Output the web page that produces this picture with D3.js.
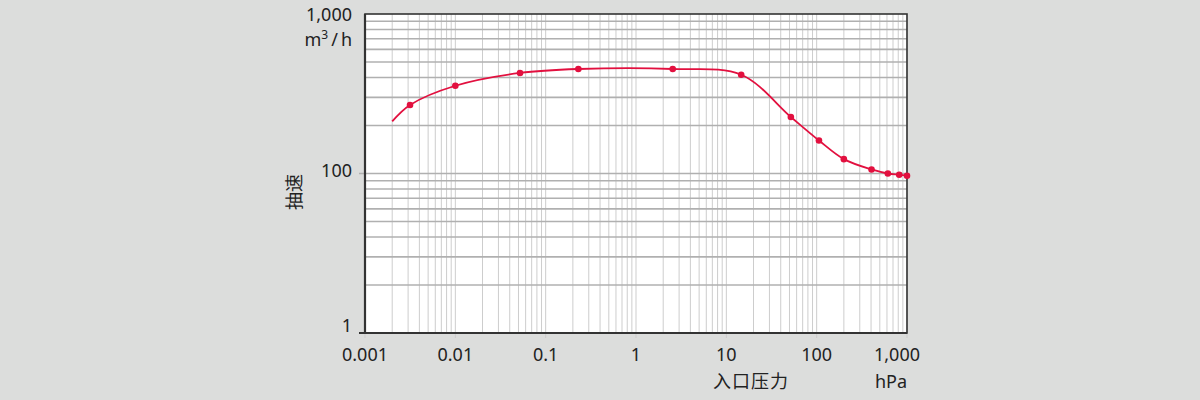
<!DOCTYPE html>
<html>
<head>
<meta charset="utf-8">
<script src="https://cdn.jsdelivr.net/npm/d3@7"></script>
<style>
  html, body { margin: 0; padding: 0; background: #dcdddc; }
  svg { display: block; }
  text { font-family: "Noto Sans", "Noto Sans CJK SC", sans-serif; fill: #222; }
  .cjk { font-family: "Noto Sans CJK SC", sans-serif; }
</style>
</head>
<body>
<svg id="chart" width="1200" height="400"></svg>
<script>
// 入口压力 (hPa) 与 抽速 (m3/h)
const pressure = [0.002, 0.00315, 0.01, 0.052, 0.23, 2.55, 14.6, 51.8, 106, 200, 405, 614, 820, 1000];
const speed    = [212,   269,     355,  427,   452,  452,  416,  226,  161, 123, 106, 100, 98.3, 96.9];
const marker   = [false, true,    true, true,  true, true, true, true, true, true, true, true, true, true];

const xTicks = [0.001, 0.01, 0.1, 1, 10, 100, 1000];
const xTickLabels = ["0.001", "0.01", "0.1", "1", "10", "100", "1,000"];
const yTicks = [10, 100, 1000];
const yTickLabels = ["1", "100", "1,000"];

const width = 1200, height = 400;
const margin = { left: 365, right: 293, top: 14, bottom: 67 };

const svg = d3.select("#chart");

const x = d3.scaleLog().domain([0.001, 1000]).range([margin.left, width - margin.right]);
const y = d3.scaleLog().domain([10, 1000]).range([height - margin.bottom, margin.top]);

// plot background
svg.append("rect")
  .attr("x", x.range()[0]).attr("y", y.range()[1])
  .attr("width", x.range()[1] - x.range()[0])
  .attr("height", y.range()[0] - y.range()[1])
  .attr("fill", "#fff");

// vertical grid (minor + major)
const xGrid = [];
for (let e = -3; e < 3; e++) {
  for (let m = 1; m < 10; m++) xGrid.push(m * Math.pow(10, e));
}
xGrid.push(1000);

svg.append("g").selectAll("line")
  .data(xGrid).enter()
  .append("line")
  .attr("x1", d => x(d)).attr("x2", d => x(d))
  .attr("y1", y.range()[1])
  .attr("y2", d => xTicks.includes(d) ? y.range()[0] + 5 : y.range()[0])
  .attr("stroke", "#cdcdcd")
  .attr("stroke-width", 1);

// horizontal grid
const yGrid = [];
for (let e = 1; e < 3; e++) {
  for (let m = 1; m < 10; m++) yGrid.push(m * Math.pow(10, e));
}

svg.append("g").selectAll("line")
  .data(yGrid).enter()
  .append("line")
  .attr("x1", d => d === 100 || d === 10 ? x.range()[0] - 6 : x.range()[0])
  .attr("x2", x.range()[1])
  .attr("y1", d => y(d)).attr("y2", d => y(d))
  .attr("stroke", "#b0b0b0")
  .attr("stroke-width", 1.6);

// frame
svg.append("rect")
  .attr("x", x.range()[0]).attr("y", y.range()[1])
  .attr("width", x.range()[1] - x.range()[0])
  .attr("height", y.range()[0] - y.range()[1])
  .attr("fill", "none")
  .attr("stroke", "#333")
  .attr("stroke-width", 1.6);

svg.append("line")
  .attr("x1", x.range()[0] - 6).attr("x2", x.range()[1])
  .attr("y1", y.range()[0]).attr("y2", y.range()[0])
  .attr("stroke", "#333").attr("stroke-width", 2.2);

svg.append("line")
  .attr("x1", x.range()[0]).attr("x2", x.range()[0])
  .attr("y1", y.range()[1]).attr("y2", y.range()[0])
  .attr("stroke", "#333").attr("stroke-width", 2.2);

// x tick labels
svg.append("g").selectAll("text")
  .data(xTicks).enter()
  .append("text")
  .attr("x", (d, i) => x(d) + (i === xTicks.length - 1 ? -10 : 0))
  .attr("y", 361)
  .attr("text-anchor", "middle")
  .attr("font-size", 18)
  .text((d, i) => xTickLabels[i]);

// y tick labels
const yShift = [-7, -2.5, 0.5];
svg.append("g").selectAll("text")
  .data(yTicks).enter()
  .append("text")
  .attr("x", 352)
  .attr("y", (d, i) => y(d) + yShift[i])
  .attr("dy", "0.36em")
  .attr("text-anchor", "end")
  .attr("font-size", 18)
  .text((d, i) => yTickLabels[i]);

// y unit
const unit = svg.append("text")
  .attr("x", 352).attr("y", 46)
  .attr("text-anchor", "end")
  .attr("font-size", 18);
unit.append("tspan").text("m");
unit.append("tspan").attr("dy", -7).attr("font-size", 12).text("3");
unit.append("tspan").attr("dy", 7).attr("dx", 3).text("/");
unit.append("tspan").attr("dx", 3).text("h");

// axis titles
svg.append("text")
  .attr("class", "cjk")
  .attr("transform", "translate(295,192) rotate(-90)")
  .attr("text-anchor", "middle")
  .attr("dy", "0.36em")
  .attr("font-size", 18)
  .text("抽速");

svg.append("text")
  .attr("class", "cjk")
  .attr("x", 751).attr("y", 388)
  .attr("text-anchor", "middle")
  .attr("font-size", 18)
  .attr("letter-spacing", 1)
  .text("入口压力");

svg.append("text")
  .attr("x", 891).attr("y", 388)
  .attr("text-anchor", "middle")
  .attr("font-size", 18)
  .text("hPa");

// curve
const pts = pressure.map((p, i) => ({ p, s: speed[i], m: marker[i] }));

const line = d3.line()
  .x(d => x(d.p))
  .y(d => y(d.s))
  .curve(d3.curveCatmullRom.alpha(0.5));

svg.append("path")
  .datum(pts)
  .attr("d", line)
  .attr("fill", "none")
  .attr("stroke", "#e2103f")
  .attr("stroke-width", 1.8);

svg.append("g").selectAll("circle")
  .data(pts.filter(d => d.m)).enter()
  .append("circle")
  .attr("cx", d => x(d.p))
  .attr("cy", d => y(d.s))
  .attr("r", 3.3)
  .attr("fill", "#e2103f");
</script>
</body>
</html>
